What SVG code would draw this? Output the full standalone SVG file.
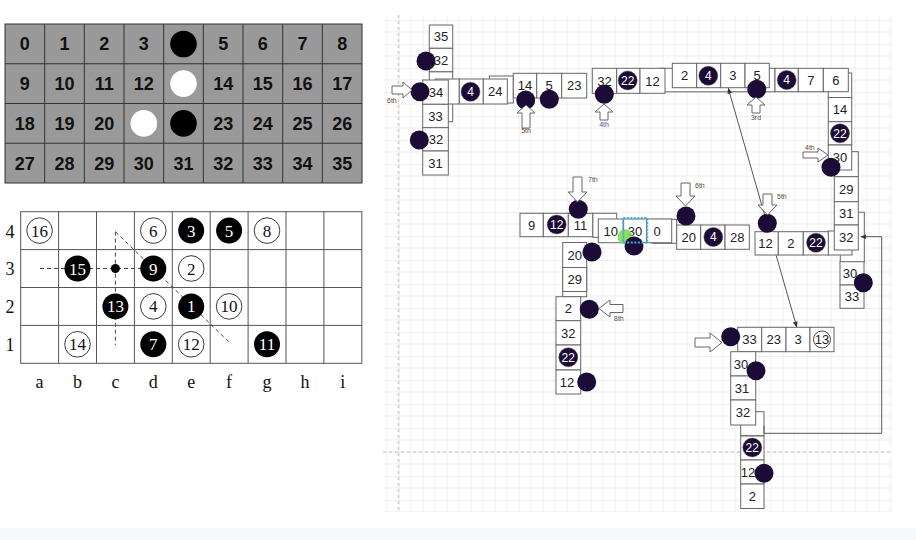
<svg xmlns="http://www.w3.org/2000/svg" width="916" height="540" viewBox="0 0 916 540">
<defs>
<style>
.g{fill:#999;stroke:#333;stroke-width:1}
.gt{font-family:"Liberation Sans",Arial,sans-serif;font-size:18px;font-weight:bold;fill:#111;text-anchor:middle}
.bl{fill:none;stroke:#555;stroke-width:1}
.tm{font-family:"Liberation Serif","Times New Roman",serif;font-size:17px;text-anchor:middle;fill:#111}
.tw{fill:#fff}
.oc{fill:#fff;stroke:#222;stroke-width:0.9}
.bc{fill:#000}
.dash{fill:none;stroke:#444;stroke-width:1;stroke-dasharray:4 3}
.bx{fill:#fff;stroke:#666;stroke-width:1}
.t{font-family:"Liberation Sans",Arial,sans-serif;font-size:13px;fill:#222;text-anchor:middle}
.dt{fill:#1b0b36}
.nc{fill:#1b0b36;stroke:#555;stroke-width:0.5}
.nt{font-family:"Liberation Sans",Arial,sans-serif;font-size:12px;fill:#fff;text-anchor:middle}
.ar{fill:#fff;stroke:#666;stroke-width:1}
.lb{font-family:"Liberation Sans",Arial,sans-serif;font-size:7px;fill:#5e4a38}
.cn{fill:none;stroke:#555;stroke-width:1}
</style>
<pattern id="grid" patternUnits="userSpaceOnUse" x="14.5" y="20" width="24" height="24">
<rect width="24" height="24" fill="#fff"/>
<path d="M12 0V24M0 12H24" stroke="#efefef" stroke-width="1"/>
<path d="M0 0V24M0 0H24" stroke="#e0e0e0" stroke-width="1"/>
</pattern>
<marker id="ah" viewBox="0 0 10 10" refX="9" refY="5" markerWidth="6" markerHeight="6" orient="auto-start-reverse">
<path d="M0 1L10 5L0 9Z" fill="#333"/>
</marker>
</defs>
<rect width="916" height="540" fill="#fff"/>
<rect x="0" y="528" width="916" height="12" fill="#f7f8fa"/>
<rect x="383" y="15" width="510" height="497" fill="url(#grid)"/>
<path d="M398.5 15V512M383 452H893" stroke="#cfcfcf" stroke-width="1.5" stroke-dasharray="3 3" fill="none"/>

<!-- top-left numbered grid -->
<g id="numgrid">
<rect class="g" x="5" y="24" width="357" height="159" stroke-width="1.5"/>
<path class="g" fill="none" d="M44.7 24V183M84.3 24V183M124 24V183M163.7 24V183M203.3 24V183M243 24V183M282.7 24V183M322.3 24V183M5 63.75H362M5 103.5H362M5 143.25H362"/>
<g class="gt">
<text x="24.8" y="50.3">0</text><text x="64.5" y="50.3">1</text><text x="104.2" y="50.3">2</text><text x="143.8" y="50.3">3</text><text x="223.2" y="50.3">5</text><text x="262.8" y="50.3">6</text><text x="302.5" y="50.3">7</text><text x="342.2" y="50.3">8</text>
<text x="24.8" y="90">9</text><text x="64.5" y="90">10</text><text x="104.2" y="90">11</text><text x="143.8" y="90">12</text><text x="223.2" y="90">14</text><text x="262.8" y="90">15</text><text x="302.5" y="90">16</text><text x="342.2" y="90">17</text>
<text x="24.8" y="129.8">18</text><text x="64.5" y="129.8">19</text><text x="104.2" y="129.8">20</text><text x="223.2" y="129.8">23</text><text x="262.8" y="129.8">24</text><text x="302.5" y="129.8">25</text><text x="342.2" y="129.8">26</text>
<text x="24.8" y="169.5">27</text><text x="64.5" y="169.5">28</text><text x="104.2" y="169.5">29</text><text x="143.8" y="169.5">30</text><text x="183.5" y="169.5">31</text><text x="223.2" y="169.5">32</text><text x="262.8" y="169.5">33</text><text x="302.5" y="169.5">34</text><text x="342.2" y="169.5">35</text>
</g>
<circle cx="183.5" cy="44" r="13.3" fill="#000"/>
<circle cx="183.5" cy="83.6" r="13.3" fill="#fff"/>
<circle cx="143.8" cy="123.4" r="13.3" fill="#fff"/>
<circle cx="183.5" cy="123.4" r="13.3" fill="#000"/>
</g>

<!-- go board -->
<g id="board">
<rect class="bl" x="20.7" y="211.7" width="341.1" height="151.6"/>
<path class="bl" d="M58.6 211.7V363.3M96.5 211.7V363.3M134.4 211.7V363.3M172.3 211.7V363.3M210.2 211.7V363.3M248.1 211.7V363.3M286 211.7V363.3M323.9 211.7V363.3M20.7 249.6H361.8M20.7 287.5H361.8M20.7 325.4H361.8"/>
<g class="tm" style="font-size:18px">
<text x="10" y="237.5">4</text><text x="10" y="275.4">3</text><text x="10" y="313.3">2</text><text x="10" y="351.2">1</text>
<text x="39.6" y="387.5">a</text><text x="77.5" y="387.5">b</text><text x="115.4" y="387.5">c</text><text x="153.3" y="387.5">d</text><text x="191.2" y="387.5">e</text><text x="229.1" y="387.5">f</text><text x="267" y="387.5">g</text><text x="304.9" y="387.5">h</text><text x="342.8" y="387.5">i</text>
</g>
<path class="dash" d="M40 268.5H141M115.4 231.7V345M115.4 231.7L230 343"/>
<circle cx="115.4" cy="268.5" r="4.5" fill="#000"/>
<g id="stones">
<circle class="oc" cx="39.6" cy="230.6" r="12.8"/><text class="tm" x="39.6" y="236.6">16</text>
<circle class="oc" cx="153.3" cy="230.6" r="12.8"/><text class="tm" x="153.3" y="236.6">6</text>
<circle class="bc" cx="191.2" cy="230.6" r="13"/><text class="tm tw" x="191.2" y="236.6">3</text>
<circle class="bc" cx="229.1" cy="230.6" r="13"/><text class="tm tw" x="229.1" y="236.6">5</text>
<circle class="oc" cx="267" cy="230.6" r="12.8"/><text class="tm" x="267" y="236.6">8</text>
<circle class="bc" cx="77.5" cy="268.5" r="13"/><text class="tm tw" x="77.5" y="274.5">15</text>
<circle class="bc" cx="153.3" cy="268.5" r="13"/><text class="tm tw" x="153.3" y="274.5">9</text>
<circle class="oc" cx="191.2" cy="268.5" r="12.8"/><text class="tm" x="191.2" y="274.5">2</text>
<circle class="bc" cx="115.4" cy="306.4" r="13"/><text class="tm tw" x="115.4" y="312.4">13</text>
<circle class="oc" cx="153.3" cy="306.4" r="12.8"/><text class="tm" x="153.3" y="312.4">4</text>
<circle class="bc" cx="191.2" cy="306.4" r="13"/><text class="tm tw" x="191.2" y="312.4">1</text>
<circle class="oc" cx="229.1" cy="306.4" r="12.8"/><text class="tm" x="229.1" y="312.4">10</text>
<circle class="oc" cx="77.5" cy="344.3" r="12.8"/><text class="tm" x="77.5" y="350.3">14</text>
<circle class="bc" cx="153.3" cy="344.3" r="13"/><text class="tm tw" x="153.3" y="350.3">7</text>
<circle class="oc" cx="191.2" cy="344.3" r="12.8"/><text class="tm" x="191.2" y="350.3">12</text>
<circle class="bc" cx="267" cy="344.3" r="13"/><text class="tm tw" x="267" y="350.3">11</text>
</g>
</g>

<!-- background outlines -->
<g id="behind">
<rect class="bx" x="429.3" y="71.7" width="23.4" height="50"/>
<rect class="bx" x="435.3" y="79" width="24" height="25"/>
<rect class="bx" x="489.3" y="76" width="24" height="27"/>
<rect class="bx" x="660" y="68.3" width="115" height="23.5"/>
<rect class="bx" x="828.3" y="73" width="23.4" height="25"/>
<rect class="bx" x="834.3" y="151.7" width="24" height="25"/>
<rect class="bx" x="840.3" y="212.3" width="24" height="50"/>
<rect class="bx" x="828" y="231" width="24" height="24"/>
<rect class="bx" x="592.7" y="213.3" width="24" height="24"/>
<rect class="bx" x="652" y="219.3" width="24.7" height="24"/>
<rect class="bx" x="562.7" y="267.5" width="24" height="29.2"/>
<rect class="bx" x="740.7" y="411.7" width="23.3" height="24"/>
</g>

<!-- connectors -->
<g id="connectors">
<line class="cn" x1="728.3" y1="88.3" x2="796.7" y2="327" marker-start="url(#ah)" marker-end="url(#ah)"/>
<path class="cn" d="M764 426V433.3H881.7V236.7H861" marker-end="url(#ah)"/>
</g>

<!-- boxes -->
<g id="boxes">
<g id="n35"><rect class="bx" x="429.3" y="25" width="23.4" height="23.3"/><text class="t" x="441" y="41.3">35</text></g>
<g id="n32a"><rect class="bx" x="429.3" y="48.3" width="23.4" height="23.4"/><text class="t" x="441" y="64.7">32</text></g>
<g id="n4a"><rect class="bx" x="459.3" y="79" width="24" height="25"/></g>
<g id="n24"><rect class="bx" x="483.3" y="79" width="24" height="25"/><text class="t" x="495.3" y="96">24</text></g>
<g id="n34"><rect class="bx" x="422.7" y="80" width="25.6" height="24.3"/><text class="t" x="436" y="96.8">34</text></g>
<g id="n33a"><rect class="bx" x="422.7" y="104.3" width="25.6" height="23.4"/><text class="t" x="435.5" y="120.6">33</text></g>
<g id="n32b"><rect class="bx" x="422.7" y="127.7" width="25.6" height="23.3"/><text class="t" x="436" y="144">32</text></g>
<g id="n31a"><rect class="bx" x="422.7" y="151" width="25.6" height="24"/><text class="t" x="435.5" y="167.6">31</text></g>
<g id="n14a"><rect class="bx" x="513.3" y="73.3" width="23.4" height="24.7"/><text class="t" x="525" y="90.3">14</text></g>
<g id="n5a"><rect class="bx" x="536.7" y="73.3" width="25" height="24.7"/><text class="t" x="549.2" y="90.3">5</text></g>
<g id="n23a"><rect class="bx" x="561.7" y="73.3" width="25" height="24.7"/><text class="t" x="574.2" y="90.3">23</text></g>
<g id="n32c"><rect class="bx" x="592.3" y="68.3" width="24.4" height="25"/><text class="t" x="604.5" y="85.5">32</text></g>
<g id="n22a"><rect class="bx" x="616.7" y="68.3" width="23.3" height="25"/></g>
<g id="n12a"><rect class="bx" x="640" y="68.3" width="25" height="25"/><text class="t" x="652.5" y="85.5">12</text></g>
<g id="n2a"><rect class="bx" x="672.3" y="63.3" width="24.4" height="24.4"/><text class="t" x="684.5" y="80.2">2</text></g>
<g id="n4b"><rect class="bx" x="696.7" y="63.3" width="24" height="24.4"/></g>
<g id="n3a"><rect class="bx" x="720.7" y="63.3" width="24.3" height="24.4"/><text class="t" x="732.8" y="80.2">3</text></g>
<g id="n5b"><rect class="bx" x="745" y="63.3" width="24.3" height="24.4"/><text class="t" x="757" y="80.2">5</text></g>
<g id="n4c"><rect class="bx" x="775" y="68.3" width="23.3" height="23.4"/></g>
<g id="n7"><rect class="bx" x="798.3" y="68.3" width="25" height="23.4"/><text class="t" x="810.8" y="84.7">7</text></g>
<g id="n6"><rect class="bx" x="823.3" y="68.3" width="25" height="23.4"/><text class="t" x="835.8" y="84.7">6</text></g>
<g id="n14b"><rect class="bx" x="828.3" y="97.5" width="23.4" height="24.2"/><text class="t" x="840" y="114.3">14</text></g>
<g id="n22b"><rect class="bx" x="828.3" y="121.7" width="23.4" height="23.3"/></g>
<g id="n30a"><rect class="bx" x="828.3" y="145" width="23.4" height="25"/><text class="t" x="840" y="162.2">30</text></g>
<g id="n29a"><rect class="bx" x="834.3" y="176.7" width="24" height="25"/><text class="t" x="846.3" y="193.9">29</text></g>
<g id="n31b"><rect class="bx" x="834.3" y="201.7" width="24" height="23.3"/><text class="t" x="846.3" y="218">31</text></g>
<g id="n32d"><rect class="bx" x="834.3" y="225" width="24" height="25"/><text class="t" x="846.3" y="242.2">32</text></g>
<g id="n30b"><rect class="bx" x="840" y="261.7" width="24" height="23.3"/><text class="t" x="850" y="278">30</text></g>
<g id="n33b"><rect class="bx" x="840" y="285" width="24" height="23.3"/><text class="t" x="852" y="301.3">33</text></g>

<g id="n9"><rect class="bx" x="520" y="213.3" width="23.3" height="23.4"/><text class="t" x="531.7" y="229.7">9</text></g>
<g id="n12b"><rect class="bx" x="543.3" y="213.3" width="25" height="23.4"/></g>
<g id="n11"><rect class="bx" x="568.3" y="213.3" width="24.4" height="23.4"/><text class="t" x="580.5" y="229.7">11</text></g>
<g id="n10"><rect class="bx" x="598.3" y="219" width="25" height="23.7"/><text class="t" x="610.8" y="235.5">10</text></g>
<g id="n30c"><rect class="bx" x="623.3" y="219" width="23.4" height="23.7"/><text class="t" x="635" y="235.5">30</text></g>
<g id="n0"><rect class="bx" x="646.7" y="219" width="25" height="23.7"/><text class="t" x="657" y="235.5">0</text></g>
<g id="n20a"><rect class="bx" x="676.7" y="225" width="24" height="24.3"/><text class="t" x="688.7" y="241.8">20</text></g>
<g id="n4d"><rect class="bx" x="700.7" y="225" width="24.3" height="24.3"/></g>
<g id="n28"><rect class="bx" x="725" y="225" width="24.3" height="24.3"/><text class="t" x="737.2" y="241.8">28</text></g>
<g id="n12c"><rect class="bx" x="755" y="231.7" width="23.3" height="23.3"/><text class="t" x="765.5" y="248">12</text></g>
<g id="n2b"><rect class="bx" x="778.3" y="231.7" width="25" height="23.3"/><text class="t" x="790.8" y="248">2</text></g>
<g id="n22c"><rect class="bx" x="803.3" y="231.7" width="25" height="23.3"/></g>
<g id="n20b"><rect class="bx" x="562.7" y="242.5" width="24" height="25"/><text class="t" x="574.7" y="259.7">20</text></g>
<g id="n29b"><rect class="bx" x="562.7" y="267.5" width="24" height="24"/><text class="t" x="574.7" y="284.2">29</text></g>
<g id="n2c"><rect class="bx" x="556" y="296.7" width="24.7" height="24"/><text class="t" x="568.3" y="313.4">2</text></g>
<g id="n32e"><rect class="bx" x="556" y="320.7" width="24.7" height="24.3"/><text class="t" x="568.3" y="337.5">32</text></g>
<g id="n22d"><rect class="bx" x="556" y="345" width="24.7" height="25"/></g>
<g id="n12d"><rect class="bx" x="556" y="370" width="24.7" height="24"/><text class="t" x="567" y="386.7">12</text></g>

<g id="n33c"><rect class="bx" x="737.7" y="327.3" width="24" height="24.4"/><text class="t" x="749.5" y="344.2">33</text></g>
<g id="n23b"><rect class="bx" x="761.7" y="327.3" width="24.3" height="24.4"/><text class="t" x="773.8" y="344.2">23</text></g>
<g id="n3b"><rect class="bx" x="786" y="327.3" width="24" height="24.4"/><text class="t" x="798" y="344.2">3</text></g>
<g id="n13"><rect class="bx" x="810" y="327.3" width="24" height="24.4"/><circle cx="822" cy="339.5" r="8.5" fill="#fff" stroke="#333" stroke-width="0.9"/><text class="t" x="822" y="344.2">13</text></g>
<g id="n30d"><rect class="bx" x="730.7" y="351.7" width="25" height="24.3"/><text class="t" x="741" y="368.5">30</text></g>
<g id="n31c"><rect class="bx" x="730.7" y="376" width="25" height="24"/><text class="t" x="742" y="392.6">31</text></g>
<g id="n32f"><rect class="bx" x="730.7" y="400" width="25" height="25"/><text class="t" x="743" y="417.2">32</text></g>
<g id="n22e"><rect class="bx" x="740.7" y="436" width="23.3" height="24"/></g>
<g id="n12e"><rect class="bx" x="740.7" y="460" width="23.3" height="24"/><text class="t" x="748" y="476.7">12</text></g>
<g id="n2d"><rect class="bx" x="740.7" y="484" width="23.3" height="24.5"/><text class="t" x="752.3" y="500.8">2</text></g>
</g>

<!-- numbered stones -->
<g id="numstones">
<circle class="nc" cx="470.5" cy="91.7" r="9.5"/><text class="nt" x="470.5" y="96">4</text>
<circle class="nc" cx="627.7" cy="80.5" r="9.5"/><text class="nt" x="627.7" y="84.8">22</text>
<circle class="nc" cx="708.3" cy="75.7" r="9.5"/><text class="nt" x="708.3" y="80">4</text>
<circle class="nc" cx="786.7" cy="80" r="9.5"/><text class="nt" x="786.7" y="84.3">4</text>
<circle class="nc" cx="840" cy="133.3" r="9.5"/><text class="nt" x="840" y="137.6">22</text>
<circle class="nc" cx="556.7" cy="224.5" r="9.5"/><text class="nt" x="556.7" y="228.8">12</text>
<circle class="nc" cx="713.3" cy="237" r="9.5"/><text class="nt" x="713.3" y="241.3">4</text>
<circle class="nc" cx="816" cy="242.7" r="9.5"/><text class="nt" x="816" y="247">22</text>
<circle class="nc" cx="568.3" cy="357.3" r="9.5"/><text class="nt" x="568.3" y="361.6">22</text>
<circle class="nc" cx="752.3" cy="447.5" r="9.5"/><text class="nt" x="752.3" y="451.8">22</text>
</g>

<!-- green marker -->
<circle id="green" cx="625" cy="236.7" r="7.5" fill="#77d94a" fill-opacity="0.85"/>

<!-- plain stones -->
<g id="dots" class="dt">
<circle cx="426" cy="61" r="9.5"/>
<circle cx="420" cy="91.7" r="9.5"/>
<circle cx="419.3" cy="140" r="9.5"/>
<circle cx="525.7" cy="100" r="9.5"/>
<circle cx="549.3" cy="99.3" r="9.5"/>
<circle cx="604.3" cy="94.3" r="9.5"/>
<circle cx="756.7" cy="89.3" r="9.5"/>
<circle cx="831" cy="167.3" r="9.5"/>
<circle cx="863.3" cy="282.7" r="9.5"/>
<circle cx="578.3" cy="209.3" r="9.5"/>
<circle cx="686" cy="216" r="9.5"/>
<circle cx="767.3" cy="223.3" r="9.5"/>
<circle cx="592" cy="252" r="9.5"/>
<circle cx="634" cy="246" r="9.5"/>
<circle cx="589.3" cy="309.3" r="9.5"/>
<circle cx="586.7" cy="382" r="9.5"/>
<circle cx="730.7" cy="336.7" r="9.5"/>
<circle cx="756" cy="370.7" r="9.5"/>
<circle cx="764" cy="473.3" r="9.5"/>
</g>

<!-- selection -->
<rect id="selection" x="623.3" y="218" width="24" height="24.5" fill="none" stroke="#39b0ea" stroke-width="2" stroke-dasharray="2 1.5"/>

<!-- move arrows -->
<g id="arrows">
<g id="a6th"><path class="ar" d="M392 86H403V82L412 90L403 98V94H392Z"/><text class="lb" x="387" y="103">6th</text></g>
<g id="a5th"><path class="ar" d="M526 105L535 113H530V128H522V113H517Z"/><text class="lb" x="526" y="133" text-anchor="middle">5th</text></g>
<g id="a4th"><path class="ar" d="M604 104L613 112H608V120H600V112H595Z"/><text class="lb" x="604" y="127" text-anchor="middle" style="fill:#4a5a9a">4th</text></g>
<g id="a3rd"><path class="ar" d="M756 97L765 105H760V113H752V105H747Z"/><text class="lb" x="756" y="120" text-anchor="middle">3rd</text></g>
<g id="a4thb"><path class="ar" d="M803 152H818V148L828 155L818 162V158H803Z"/><text class="lb" x="805" y="150">4th</text></g>
<g id="a7th"><path class="ar" d="M573 177H582V192H587L577.5 202L568 192H573Z"/><text class="lb" x="588" y="182">7th</text></g>
<g id="a6thb"><path class="ar" d="M681 183H690V196H695L685.5 206L676 196H681Z"/><text class="lb" x="695" y="188">6th</text></g>
<g id="a5thb"><path class="ar" d="M763 194H772V205H777L767.5 215L758 205H763Z"/><text class="lb" x="777" y="199">5th</text></g>
<g id="a8th"><path class="ar" d="M599 308.5L610 300V304.5H623V312.5H610V317Z"/><text class="lb" x="614" y="321">8th</text></g>
<g id="aR"><path class="ar" d="M695 338H710V333L722 342.5L710 352V347H695Z"/></g>
</g>
</svg>
